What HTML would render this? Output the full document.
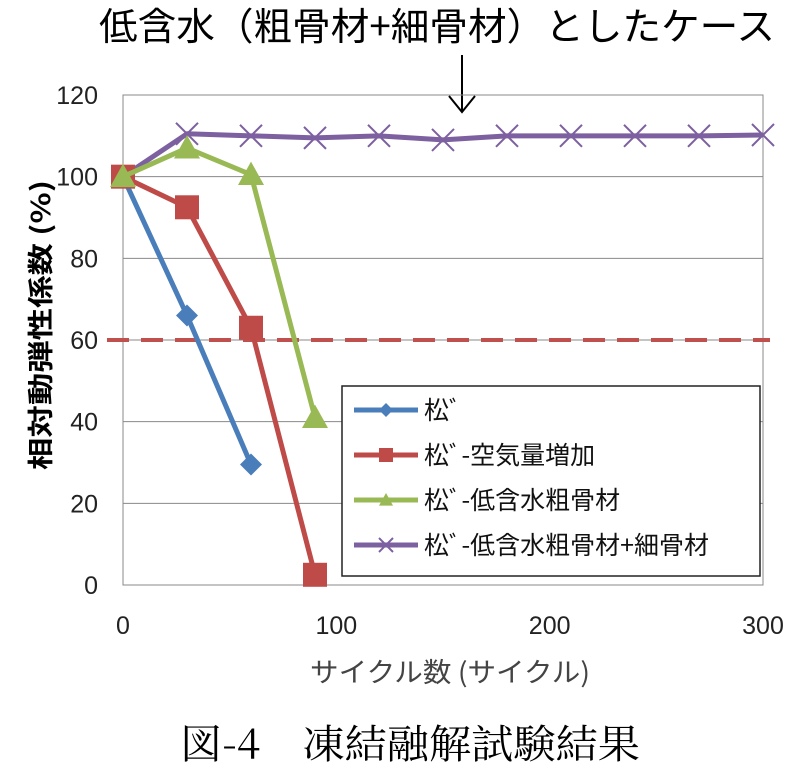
<!DOCTYPE html>
<html><head><meta charset="utf-8"><style>
body{margin:0;background:#fff;}
svg{display:block;font-family:"Liberation Sans","Noto Sans CJK JP",sans-serif;}
</style></head><body>
<svg width="797" height="769">
<text x="437" y="40" font-size="38" text-anchor="middle" textLength="676" lengthAdjust="spacingAndGlyphs" font-family="'Noto Sans CJK JP',sans-serif">低含水（粗骨材+細骨材）としたケース</text>
<g stroke="#000" stroke-width="2" fill="none">
<line x1="462" y1="55" x2="462" y2="112"/><polyline points="449,96 462,112 475,96"/></g>
<g id="grid"></g>
<rect x="123" y="95" width="640" height="490" fill="none" stroke="#888"/>
<g id="yt"></g><g id="xt"></g>
<line id="thr" stroke="#C0504D" stroke-width="4" stroke-dasharray="22,12"/>
<g id="series"></g>
<text transform="translate(50,325) rotate(-90)" font-size="26" font-weight="bold" text-anchor="middle" textLength="290" lengthAdjust="spacingAndGlyphs" font-family="'Noto Sans CJK JP',sans-serif">相対動弾性係数 (%)</text>
<text x="450" y="682" font-size="27" fill="#444" text-anchor="middle" textLength="280" lengthAdjust="spacingAndGlyphs" font-family="'Noto Sans CJK JP',sans-serif">サイクル数 (サイクル)</text>
<text x="410" y="758" font-size="40" text-anchor="middle" textLength="460" lengthAdjust="spacingAndGlyphs" font-family="'Noto Serif CJK SC',serif">図-4　凍結融解試験結果</text>
<g>
<rect x="342" y="386" width="418" height="190" fill="#fff" stroke="#222" stroke-width="1.5"/>
<g id="leg"></g></g>
</svg>
<script>
const xTicks=[0,100,200,300];
const yTicks=[0,20,40,60,80,100,120];
const threshold=60;
const seriesNames=["松ﾞ","松ﾞ-空気量増加","松ﾞ-低含水粗骨材","松ﾞ-低含水粗骨材+細骨材"];
const seriesColors=["#4A7EBB","#BE4B48","#98B954","#7D60A0"];
const markers=["diamond","square","triangle","x"];
const s1x=[0,30,60], s1y=[100,66,29.5];
const s2x=[0,30,60,90], s2y=[100,92.5,63,2.5];
const s3x=[0,30,60,90], s3y=[100,107,100.5,41];
const s4x=[0,30,60,90,120,150,180,210,240,270,300], s4y=[100,110.5,110,109.5,110,109,110,110,110,110,110.2];
const NS="http://www.w3.org/2000/svg";
const X=v=>123+v/300*640, Y=v=>585-v/120*490;
function mk(t,a,p){const e=document.createElementNS(NS,t);for(const k in a)e.setAttribute(k,a[k]);p.appendChild(e);return e;}
const grid=document.getElementById('grid'),yt=document.getElementById('yt'),xt=document.getElementById('xt');
yTicks.forEach(v=>{if(v>0&&v<120){const l=mk('line',{x1:123,x2:763,y1:Y(v),y2:Y(v),stroke:'#888'},grid);

}
const t=mk('text',{x:98,y:Y(v)+9,'font-size':25,'text-anchor':'end',fill:'#222'},yt);t.textContent=v;

});
xTicks.forEach(v=>{const t=mk('text',{x:X(v),y:634,'font-size':25,'text-anchor':'middle',fill:'#222'},xt);t.textContent=v;

});
const thr=document.getElementById('thr');
thr.setAttribute('x1',107);thr.setAttribute('x2',770);thr.setAttribute('y1',Y(threshold));thr.setAttribute('y2',Y(threshold));
function marker(type,cx,cy,c,g,s){
 if(type=='diamond')return mk('polygon',{points:`${cx},${cy-s} ${cx+s},${cy} ${cx},${cy+s} ${cx-s},${cy}`,fill:c},g);
 if(type=='square')return mk('rect',{x:cx-s,y:cy-s,width:2*s,height:2*s,fill:c},g);
 if(type=='triangle')return mk('polygon',{points:`${cx},${cy-s} ${cx+s},${cy+s*0.8} ${cx-s},${cy+s*0.8}`,fill:c},g);
 return mk('path',{d:`M${cx-s} ${cy-s}L${cx+s} ${cy+s}M${cx+s} ${cy-s}L${cx-s} ${cy+s}`,stroke:c,'stroke-width':2,fill:'none'},g);
}
const sx=[s1x,s2x,s3x,s4x],sy=[s1y,s2y,s3y,s4y],sizes=[11,12,13,11];
const sg=document.getElementById('series');
[3,0,1,2].forEach(i=>{const g=mk('g',{},sg);


mk('polyline',{points:sx[i].map((x,j)=>X(x)+','+Y(sy[i][j])).join(' '),fill:'none',stroke:seriesColors[i],'stroke-width':5,'stroke-linejoin':'round'},g);
sx[i].forEach((x,j)=>{const m=marker(markers[i],X(x),Y(sy[i][j]),seriesColors[i],g,sizes[i]);

});});
const leg=document.getElementById('leg');
seriesNames.forEach((n,i)=>{const y=410+i*45;const g=mk('g',{},leg);


mk('line',{x1:354,x2:418,y1:y,y2:y,stroke:seriesColors[i],'stroke-width':5},g);
marker(markers[i],386,y,seriesColors[i],g,7);
const t=mk('text',{x:424,y:y+9,'font-size':25,fill:'#111','font-family':"'Noto Sans CJK JP',sans-serif"},g);t.textContent=n;});
</script>
</body></html>
